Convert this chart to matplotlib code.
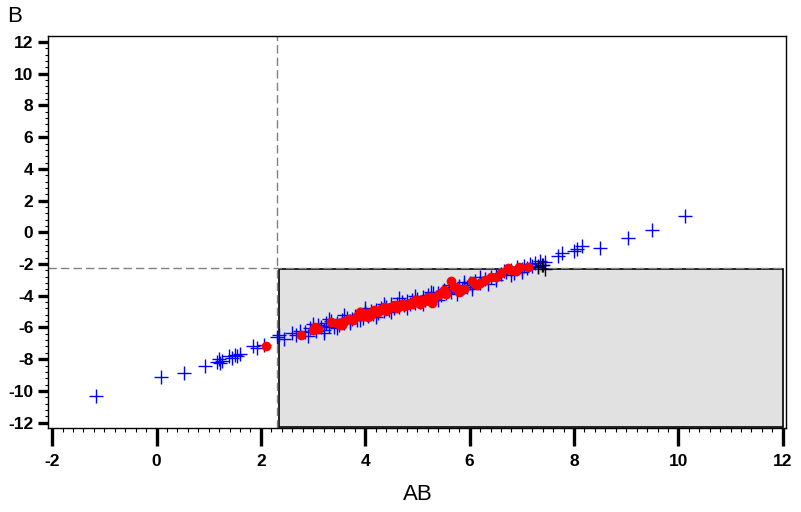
import matplotlib
matplotlib.use("Agg")
import matplotlib.pyplot as plt
from matplotlib.patches import Rectangle
from matplotlib.ticker import MultipleLocator

plt.rcParams['font.family'] = ['Liberation Sans', 'DejaVu Sans']
plt.rcParams['axes.unicode_minus'] = False

# blue "+" points (AB, B)
blue_x = [-1.16, 0.08, 0.52, 0.92, 1.15, 1.2, 1.22, 1.25, 1.38, 1.45, 1.5, 1.55, 1.6,
          1.84, 1.93, 2.05, 2.3, 2.35, 2.45, 2.6, 2.68, 2.75, 2.85, 2.95, 3.05, 3.1,
          3.15, 3.2, 3.25, 3.3, 3.35, 3.4, 3.45, 3.5, 3.55, 3.6, 3.65, 3.7, 3.75, 3.8,
          3.85, 3.9, 3.95, 4.0, 4.05, 4.1, 4.15, 4.2, 4.25, 4.3, 4.35, 4.4, 4.45, 4.5,
          4.55, 4.6, 4.65, 4.7, 4.75, 4.8, 4.85, 4.9, 4.95, 5.0, 5.05, 5.1, 5.15, 5.2,
          5.25, 5.3, 5.35, 5.4, 5.45, 5.5, 5.55, 5.6, 5.65, 5.7, 5.75, 5.8, 5.85, 5.9,
          5.95, 6.0, 6.05, 6.1, 6.2, 6.3, 6.4, 6.5, 6.6, 6.7, 6.8, 6.85, 6.9, 7.0, 7.05,
          7.1, 7.15, 7.2, 7.25, 7.3, 7.35, 7.4, 7.45, 7.7, 7.76, 8.0, 8.05, 8.16, 8.5,
          9.04, 9.5, 10.13,
          # extra scatter around the band
          2.9, 3.0, 3.2, 3.3, 3.45, 3.6, 3.7, 3.9, 4.0, 4.2, 4.35, 4.5, 4.65, 4.8,
          4.95, 5.1, 5.25, 5.4, 5.6, 5.75, 5.9, 6.05, 6.2, 6.35, 6.5, 6.65, 6.8, 7.0]
blue_y = [-10.3, -9.1, -8.9, -8.4, -8.2, -8.0, -8.25, -8.1, -7.8, -7.9, -7.75, -7.8, -7.7,
          -7.2, -7.3, -7.1, -6.6, -6.45, -6.7, -6.35, -6.45, -6.2, -6.3, -6.05, -6.2, -5.85,
          -6.0, -6.15, -5.75, -5.9, -5.6, -5.95, -5.7, -5.85, -5.5, -5.7, -5.4, -5.6, -5.45, -5.3,
          -5.5, -5.2, -5.4, -5.05, -5.3, -4.95, -5.15, -4.9, -5.1, -4.75, -4.95, -4.7, -4.9, -4.55,
          -4.8, -4.5, -4.7, -4.4, -4.6, -4.35, -4.55, -4.25, -4.45, -4.2, -4.4, -4.05, -4.25, -3.95,
          -4.15, -3.85, -4.05, -3.8, -3.95, -3.65, -3.85, -3.55, -3.75, -3.45, -3.6, -3.4, -3.55, -3.3,
          -3.45, -3.2, -3.35, -3.05, -3.2, -2.95, -2.85, -2.75, -2.6, -2.5, -2.35, -2.55, -2.2, -2.3, -2.1,
          -2.25, -2.0, -2.15, -1.95, -2.1, -1.8, -2.05, -1.9, -1.5, -1.3, -1.2, -1.05, -0.85, -0.98,
          -0.35, 0.16, 1.04,
          -6.55, -5.8, -6.35, -5.45, -6.05, -5.2, -5.75, -5.55, -4.75, -5.35, -4.55, -5.0, -4.15, -4.75,
          -4.0, -4.5, -3.75, -4.3, -3.3, -3.9, -3.15, -3.6, -2.85, -3.25, -3.0, -2.45, -2.7, -2.5]

# black "+" points
black_x = [7.3, 7.38, 7.45]
black_y = [-2.2, -2.05, -2.3]

# red circles
red_x = [2.1, 2.76, 3.0, 3.04, 3.1, 3.35, 3.45, 3.52, 3.6, 3.68, 3.77, 3.85, 3.95, 4.03,
         4.1, 4.17, 4.25, 4.3, 4.4, 4.45, 4.5, 4.55, 4.6, 4.7, 4.75, 4.8, 4.85, 4.9, 5.0,
         5.05, 5.1, 5.15, 5.2, 5.28, 5.3, 5.4, 5.5, 5.55, 5.64, 5.75, 5.8, 5.9, 6.04,
         6.14, 6.2, 6.3, 6.5, 6.6, 6.73, 6.88, 6.94, 7.11,
         3.55, 3.9, 4.05, 4.35, 4.6, 4.95, 5.25, 5.45, 5.7, 6.1, 6.4, 6.8]
red_y = [-7.2, -6.5, -6.15, -5.95, -6.1, -5.65, -5.7, -5.85, -5.6, -5.45, -5.5, -5.3, -5.25, -5.1,
         -5.2, -4.9, -5.05, -4.85, -4.95, -4.75, -4.7, -4.6, -4.8, -4.55, -4.65, -4.6, -4.45, -4.5, -4.3,
         -4.55, -4.25, -4.35, -4.1, -4.45, -4.2, -3.95, -3.65, -3.9, -3.1, -3.5, -3.75, -3.55, -3.1,
         -3.3, -3.2, -3.0, -2.8, -2.55, -2.25, -2.45, -2.2, -2.2,
         -5.85, -5.05, -5.35, -4.7, -4.6, -4.25, -4.05, -3.8, -3.45, -3.25, -2.85, -2.35]

x_cut = 2.30
y_cut = -2.26

fig = plt.figure(figsize=(8.01, 5.12), dpi=100)
ax = fig.add_axes([0.0599, 0.1641, 0.9213, 0.7656])

ax.add_patch(Rectangle((2.35, -12.25), 12.0 - 2.35, -2.32 + 12.25,
                       facecolor='#e1e1e1', edgecolor='black', linewidth=1.2, zorder=1))
ax.axvline(x_cut, color='#808080', linestyle=(0, (6, 3)), linewidth=1, zorder=2)
ax.axhline(y_cut, color='#808080', linestyle=(0, (6, 3)), linewidth=1, zorder=2)

ax.plot(blue_x, blue_y, linestyle='none', marker='+', markersize=10, markeredgewidth=1,
        color='#0000ff', zorder=3)
ax.plot(black_x, black_y, linestyle='none', marker='+', markersize=10, markeredgewidth=1,
        color='black', zorder=3)
ax.plot(red_x, red_y, linestyle='none', marker='o', markersize=7,
        color='#ff0000', markeredgewidth=0, zorder=4)

ax.set_xlim(-2.08, 12.06)
ax.set_ylim(-12.34, 12.38)
ax.xaxis.set_major_locator(MultipleLocator(2))
ax.xaxis.set_minor_locator(MultipleLocator(0.2))
ax.yaxis.set_major_locator(MultipleLocator(2))
ax.yaxis.set_minor_locator(MultipleLocator(0.4))

ax.tick_params(axis='x', which='major', length=13, width=2.4, pad=6, labelsize=12.5)
ax.tick_params(axis='x', which='minor', length=3, width=0.8)
ax.tick_params(axis='y', which='major', length=7.5, width=2.4, pad=3, labelsize=12.5)
ax.tick_params(axis='y', which='minor', length=2.5, width=0.8)
for lab in ax.get_xticklabels() + ax.get_yticklabels():
    lab.set_fontweight('bold')
for s in ax.spines.values():
    s.set_linewidth(1)

fig.text(418 / 801, 1 - 495 / 512, 'AB', ha='center', va='center', fontsize=16)
fig.text(15 / 801, 1 - 16 / 512, 'B', ha='center', va='center', fontsize=16)

fig.savefig('out.png', dpi=100)
